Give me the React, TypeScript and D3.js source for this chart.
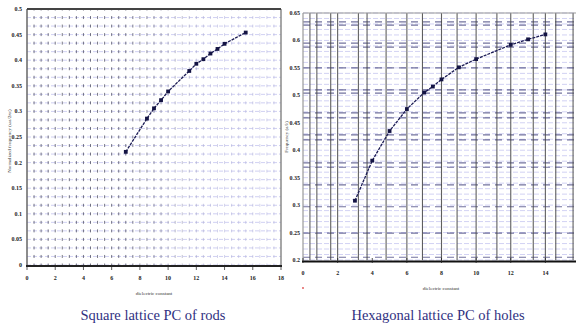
import React from "react";
import * as d3 from "d3";

// ---- data ----
const leftX = [7, 8.5, 9, 9.5, 10, 11.5, 12, 12.5, 13, 13.5, 14, 15.5];
const leftY = [0.221, 0.286, 0.306, 0.322, 0.339, 0.379, 0.393, 0.402, 0.413, 0.422, 0.432, 0.454];
const rightX = [3, 4, 5, 6, 7, 7.5, 8, 9, 10, 12, 13, 14];
const rightY = [0.308, 0.381, 0.435, 0.475, 0.505, 0.516, 0.529, 0.551, 0.566, 0.592, 0.602, 0.611];

const leftXTicks = [0, 2, 4, 6, 8, 10, 12, 14, 16, 18];
const leftYTicks = [0, 0.05, 0.1, 0.15, 0.2, 0.25, 0.3, 0.35, 0.4, 0.45, 0.5];
const rightXTicks = [0, 2, 4, 6, 8, 10, 12, 14];
const rightYTicks = [0.2, 0.25, 0.3, 0.35, 0.4, 0.45, 0.5, 0.55, 0.6, 0.65];

const rightGridX = [0.4, 0.8, 1.6, 2, 3.2, 3.7, 4.8, 6, 6.9, 8, 8.9, 10, 11.2, 12, 13.3, 14, 14.6, 15.6];
const rightGridY = [0.634, 0.628, 0.595, 0.588, 0.55, 0.51, 0.504, 0.468, 0.459, 0.428, 0.419, 0.377, 0.369, 0.337, 0.297, 0.249, 0.205];

const leftTitleX = "dielectric constant";
const leftTitleY = "Normalized frequency (ωa/2πc)";
const rightTitleX = "dielectric constant";
const rightTitleY = "Frequency (a/λ)";
const leftCaption = "Square lattice PC of rods";
const rightCaption = "Hexagonal lattice PC of holes";

const fmt = (v: number) => String(+v.toFixed(2));
const LINE = "#1c1c55";
const MARK = "#141444";

function LeftChart() {
  const x = d3.scaleLinear().domain([0, 18]).range([27, 281]);
  const y = d3.scaleLinear().domain([0, 0.5]).range([265, 9]);
  const step = 0.05 / 3;
  const hLines = d3.range(0, 31).map((i) => i * step);
  const vLines = d3.range(1, 36).map((i) => i * 0.5);
  const period = Math.abs(y(0) - y(step));
  const col = d3.interpolateRgb("#4a4a5e", "#b4b4dc");
  const line = d3.line<number>().x((_, i) => x(leftX[i])).y((d) => y(d));
  return (
    <g>
      <rect x={x(0)} y={y(0.5)} width={x(18) - x(0)} height={y(0) - y(0.5)} fill="#fff" />
      {hLines.map((v, i) => (
        <line key={"h" + i} x1={x(0)} x2={x(18)} y1={y(v)} y2={y(v)} stroke="#c4c4ef" strokeWidth={0.8} strokeDasharray="4,2" />
      ))}
      {vLines.map((v, i) => (
        <line
          key={"v" + i}
          x1={x(v)}
          x2={x(v)}
          y1={y(0.5)}
          y2={y(0)}
          stroke={col(Math.min(1, Math.max(0, (v - 7) / 6)))}
          strokeOpacity={v < 10 ? 0.75 : 0.6}
          strokeWidth={1}
          strokeDasharray={`3,${period - 3}`}
          strokeDashoffset={1.5}
        />
      ))}
      {/* frame */}
      <line x1={x(0)} x2={x(0)} y1={y(0.5)} y2={y(0)} stroke="#666" strokeWidth={1.5} />
      <line x1={x(18)} x2={x(18)} y1={y(0.5)} y2={y(0)} stroke="#777" strokeWidth={1.3} />
      <line x1={x(0)} x2={x(18)} y1={y(0.5)} y2={y(0.5)} stroke="#444" strokeWidth={2} />
      <line x1={x(0) - 1} x2={x(18) + 1} y1={y(0) + 1} y2={y(0) + 1} stroke="#222" strokeWidth={2} />
      {leftXTicks.map((t) => (
        <g key={"xt" + t}>
          <line x1={x(t)} x2={x(t)} y1={y(0) + 2} y2={y(0) + 5} stroke="#333" strokeWidth={0.8} />
          <text x={x(t)} y={280} fontSize={6} fontWeight="bold" textAnchor="middle" fontFamily="Liberation Serif" fill="#222">
            {fmt(t)}
          </text>
        </g>
      ))}
      {leftYTicks.map((t) => (
        <text key={"yt" + t} x={22} y={y(t) + 2} fontSize={6} fontWeight="bold" textAnchor="end" fontFamily="Liberation Serif" fill="#222">
          {fmt(t)}
        </text>
      ))}
      <text x={154} y={295} fontSize={5} textAnchor="middle" fontFamily="Liberation Serif" fill="#333">
        {leftTitleX}
      </text>
      <text transform={`translate(11,141) rotate(-90)`} fontSize={5} textAnchor="middle" fontFamily="Liberation Serif" fill="#333">
        {leftTitleY}
      </text>
      <path d={line(leftY) || ""} fill="none" stroke={LINE} strokeWidth={1.3} strokeDasharray="3,1" />
      {leftY.map((v, i) => (
        <rect key={"m" + i} x={x(leftX[i]) - 1.9} y={y(v) - 1.9} width={3.8} height={3.8} fill={MARK} />
      ))}
    </g>
  );
}

function RightChart() {
  const x = d3.scaleLinear().domain([0, 16]).range([303, 580]);
  const y = d3.scaleLinear().domain([0.2, 0.65]).range([260, 13]);
  const light = d3.range(0, 46).map((i) => 0.2 + i * 0.01);
  const line = d3.line<number>().x((_, i) => x(rightX[i])).y((d) => y(d));
  return (
    <g>
      <rect x={x(0)} y={y(0.65)} width={x(16) - x(0)} height={y(0.2) - y(0.65)} fill="#fff" />
      {light.map((v, i) => (
        <line key={"l" + i} x1={x(0)} x2={x(16)} y1={y(v)} y2={y(v)} stroke="#c6c6f0" strokeWidth={0.8} strokeDasharray="5,2" />
      ))}
      {rightGridY.map((v, i) => (
        <line key={"d" + i} x1={x(0)} x2={x(16)} y1={y(v)} y2={y(v)} stroke="#3c3c78" strokeOpacity={0.72} strokeWidth={1.2} strokeDasharray="7,5" />
      ))}
      {rightGridX.map((v, i) => (
        <line key={"v" + i} x1={x(v)} x2={x(v)} y1={y(0.65)} y2={y(0.2)} stroke="#444" strokeOpacity={0.85} strokeWidth={1.1} />
      ))}
      <line x1={x(0)} x2={x(0)} y1={y(0.65)} y2={y(0.2)} stroke="#999" strokeWidth={1.2} />
      <line x1={x(0)} x2={x(16)} y1={y(0.65)} y2={y(0.65)} stroke="#999" strokeWidth={1.2} />
      <line x1={x(0) - 1} x2={x(16)} y1={y(0.2) + 1.5} y2={y(0.2) + 1.5} stroke="#111" strokeWidth={2} />
      {rightXTicks.map((t) => (
        <g key={"xt" + t}>
          <line x1={x(t)} x2={x(t)} y1={y(0.2) - 2} y2={y(0.2) + 3} stroke="#222" strokeWidth={0.8} />
          <text x={x(t)} y={275} fontSize={6} fontWeight="bold" textAnchor="middle" fontFamily="Liberation Serif" fill="#222">
            {fmt(t)}
          </text>
        </g>
      ))}
      {rightYTicks.map((t) => (
        <text key={"yt" + t} x={300} y={y(t) + 2} fontSize={6} fontWeight="bold" textAnchor="end" fontFamily="Liberation Serif" fill="#222">
          {fmt(t)}
        </text>
      ))}
      <text x={441} y={290} fontSize={5} textAnchor="middle" fontFamily="Liberation Serif" fill="#333">
        {rightTitleX}
      </text>
      <circle cx={303} cy={288} r={0.9} fill="#e05050" />
      <text transform={`translate(288,137) rotate(-90)`} fontSize={5} textAnchor="middle" fontFamily="Liberation Serif" fill="#333">
        {rightTitleY}
      </text>
      <path d={line(rightY) || ""} fill="none" stroke={LINE} strokeWidth={1.3} strokeDasharray="3,1" />
      {rightY.map((v, i) => (
        <rect key={"m" + i} x={x(rightX[i]) - 1.9} y={y(v) - 1.9} width={3.8} height={3.8} fill={MARK} />
      ))}
    </g>
  );
}

export default function App() {
  return (
    <div style={{ position: "absolute", left: 0, top: 0 }}>
      <svg width={576} height={332} viewBox="0 0 576 332" style={{ display: "block", background: "#fff" }}>
        <rect width={576} height={332} fill="#fff" />
        <LeftChart />
        <RightChart />
        <text x={153} y={320} fontSize={14.5} textAnchor="middle" fontFamily="Liberation Serif" fill="#30307f">
          {leftCaption}
        </text>
        <text x={438} y={320} fontSize={14.5} textAnchor="middle" fontFamily="Liberation Serif" fill="#30307f">
          {rightCaption}
        </text>
      </svg>
    </div>
  );
}
